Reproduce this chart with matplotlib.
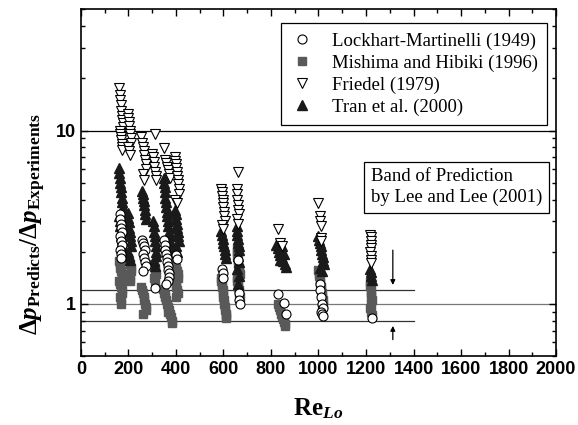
import matplotlib
matplotlib.use("Agg")
import matplotlib.pyplot as plt
from matplotlib.ticker import MultipleLocator, FixedLocator, NullFormatter, LogLocator

plt.rcParams["mathtext.fontset"] = "custom"
plt.rcParams["mathtext.rm"] = "Liberation Serif:bold"
plt.rcParams["mathtext.bf"] = "Liberation Serif:bold"
plt.rcParams["mathtext.it"] = "Liberation Serif:bold:italic"

# Lockhart-Martinelli (1949)
lm_re = [163, 165, 167, 169, 171, 164, 168, 172, 166, 170, 168,
         258, 262, 266, 270, 260, 264, 268, 272, 262,
         312,
         350, 353, 356, 359, 362, 364, 366, 368, 370, 372, 366, 360,
         402, 404,
         595, 598, 600,
         660, 664, 666, 668,
         828, 853, 862,
         1005, 1008, 1012, 1015, 1018, 1010, 1014, 1020,
         1225]
lm_val = [3.3, 3.1, 2.9, 2.75, 2.6, 2.45, 2.3, 2.2, 2.05, 1.95, 1.85,
          2.35, 2.25, 2.15, 2.05, 1.95, 1.85, 1.75, 1.65, 1.55,
          1.24,
          2.35, 2.2, 2.05, 1.95, 1.85, 1.75, 1.65, 1.58, 1.5, 1.43, 1.36, 1.3,
          1.92, 1.82,
          1.6, 1.5, 1.42,
          1.8, 1.15, 1.05, 1.0,
          1.14, 1.01, 0.87,
          1.3, 1.2, 1.1, 1.0, 0.95, 0.9, 0.88, 0.85,
          0.83]

# Mishima and Hibiki (1996)
mh_re = [160, 163, 166, 169, 172, 175, 162, 165, 168, 171, 174, 164, 167, 170,
         200, 203, 206, 209, 212, 202, 205, 208,
         255, 258, 261, 264, 267, 270, 273, 275, 260,
         308, 310, 312, 314, 309, 311,
         345, 350, 355, 358, 362, 366, 370, 374, 378, 382, 385, 352, 368,
         395, 398, 401, 404, 407, 410, 396, 399, 402, 405, 408, 400,
         588, 590, 592, 594, 596, 598, 600, 602, 604, 606, 608, 610, 611, 612,
         655, 657, 659, 661, 663, 665, 667, 668, 656, 658, 660, 662, 664, 666, 668,
         830, 834, 838, 842, 846, 850, 854, 858, 860,
         1000, 1002, 1004, 1006, 1008, 1010, 1012, 1014, 1016, 1018, 1020, 1015,
         1215, 1217, 1219, 1221, 1223, 1225, 1220, 1218, 1222, 1224]
mh_val = [1.78, 1.7, 1.62, 1.55, 1.48, 1.42, 1.36, 1.3, 1.25, 1.2, 1.15, 1.1, 1.05, 1.0,
          1.85, 1.77, 1.7, 1.62, 1.55, 1.48, 1.42, 1.36,
          1.25, 1.2, 1.15, 1.1, 1.05, 1.0, 0.96, 0.92, 0.88,
          1.7, 1.62, 1.55, 1.48, 1.42, 1.36,
          1.22, 1.16, 1.1, 1.05, 1.0, 0.96, 0.92, 0.88, 0.84, 0.8, 0.78, 1.12, 0.9,
          1.78, 1.7, 1.62, 1.55, 1.48, 1.42, 1.36, 1.3, 1.25, 1.2, 1.15, 1.1,
          1.42, 1.36, 1.3, 1.25, 1.2, 1.15, 1.1, 1.05, 1.0, 0.96, 0.92, 0.88, 0.85, 0.83,
          2.1, 2.0, 1.9, 1.8, 1.7, 1.62, 1.55, 1.48, 1.42, 1.36, 1.3, 1.25, 1.2, 1.15, 1.1,
          1.0, 0.96, 0.92, 0.88, 0.85, 0.82, 0.79, 0.77, 0.75,
          1.56, 1.5, 1.44, 1.38, 1.32, 1.26, 1.2, 1.15, 1.1, 1.05, 1.0, 0.96,
          1.33, 1.27, 1.21, 1.15, 1.1, 1.05, 1.0, 0.95, 0.9, 0.86]

# Friedel (1979)
fr_re = [162, 164, 166, 168, 170, 172, 174, 176, 178, 163, 165, 167, 169, 171, 173, 175,
         198, 200, 202, 204, 206, 208, 210, 212, 199, 203, 207,
         255, 258, 261, 264, 267, 270, 273, 275, 260, 266,
         310, 300, 303, 306, 309, 312, 315, 318,
         350, 355, 359, 363, 367, 371, 375,
         395, 397, 399, 401, 403, 405, 407, 409, 411, 412, 398, 404,
         590, 592, 594, 596, 598, 600, 602, 604, 605, 593, 599,
         660, 655, 657, 659, 661, 663, 665, 658, 662,
         830, 838, 845,
         1000, 1005, 1007, 1010, 1010, 1012,
         1218, 1219, 1220, 1221, 1222, 1218, 1220, 1222, 1219]
fr_val = [17.5, 16.0, 15.0, 14.0, 13.0, 12.2, 11.5, 11.0, 10.5, 10.0, 9.6, 9.2, 8.8, 8.4, 8.0, 7.7,
          12.5, 11.8, 11.2, 10.6, 10.0, 9.5, 9.0, 8.5, 8.0, 7.6, 7.2,
          9.2, 8.5, 8.0, 7.6, 7.2, 6.8, 6.4, 6.0, 5.6, 5.2,
          9.6, 7.3, 7.0, 6.6, 6.2, 5.8, 5.5, 5.2,
          7.9, 6.8, 6.5, 6.2, 5.9, 5.6, 5.3,
          7.0, 6.7, 6.4, 6.1, 5.8, 5.5, 5.2, 4.9, 4.6, 4.3, 4.0, 3.8,
          4.6, 4.4, 4.2, 4.0, 3.8, 3.6, 3.4, 3.2, 3.0, 2.85, 2.7,
          5.8, 4.6, 4.3, 4.0, 3.7, 3.5, 3.3, 3.1, 2.9,
          2.7, 2.25, 2.15,
          3.8, 3.2, 3.0, 2.8, 2.4, 2.3,
          2.5, 2.42, 2.3, 2.2, 2.1, 2.0, 1.9, 1.8, 1.72]

# Tran et al. (2000)
tr_re = [160, 162, 164, 166, 168, 170, 172, 174, 176, 178, 161, 163, 165, 167, 169, 171, 173, 175,
         198, 200, 202, 204, 206, 208, 210, 212, 199, 203, 207,
         258, 260, 262, 264, 266, 268, 270, 272,
         305, 307, 309, 311, 313, 315, 317, 318, 306, 310,
         348, 350, 352, 354, 356, 358, 360, 362, 364, 366, 368, 370, 373, 376, 380, 385,
         398, 400, 402, 404, 406, 408, 410, 412, 399, 405,
         590, 593, 596, 599, 602, 605, 608, 610,
         655, 657, 659, 661, 663, 665, 667, 660, 664, 658, 666, 662,
         822, 828, 834, 840, 846, 852, 858, 862, 830, 845, 855, 838,
         1000, 1003, 1006, 1009, 1012, 1015, 1018, 1021, 1025, 1008, 1014,
         1218, 1220, 1222, 1225]
tr_val = [6.1, 5.7, 5.3, 5.0, 4.7, 4.4, 4.1, 3.85, 3.6, 3.4, 3.2, 3.0, 2.8, 2.6, 2.45, 2.3, 2.15, 2.0,
          3.35, 3.15, 2.95, 2.75, 2.6, 2.45, 2.3, 2.15, 2.0, 1.9, 1.8,
          4.5, 4.3, 4.1, 3.9, 3.7, 3.5, 3.3, 3.1,
          3.0, 2.8, 2.6, 2.45, 2.3, 2.15, 2.0, 1.88, 1.76, 1.65,
          5.3, 5.0, 4.7, 4.4, 4.1, 3.85, 3.6, 3.4, 3.2, 3.0, 2.8, 2.6, 2.45, 2.3, 2.15, 2.0,
          3.5, 3.3, 3.1, 2.9, 2.75, 2.6, 2.45, 2.3, 2.15, 2.0,
          2.65, 2.5, 2.38, 2.26, 2.15, 2.05, 1.95, 1.85,
          2.8, 2.65, 2.5, 2.38, 2.26, 2.15, 2.05, 1.9, 1.75, 1.6, 1.45, 1.3,
          2.2, 2.1, 2.0, 1.92, 1.85, 1.78, 1.7, 1.64, 2.25, 2.15, 1.95, 1.8,
          2.47, 2.35, 2.25, 2.15, 2.05, 1.95, 1.86, 1.78, 1.7, 1.62, 1.55,
          1.6, 1.52, 1.45, 1.38]

band_lines = [1.2, 1.0, 0.8]

fig = plt.figure(figsize=(5.78, 4.25), dpi=100)
ax = fig.add_axes([0.14, 0.162, 0.822, 0.816])

ax.axhline(10, color="black", lw=0.9, zorder=1)
ax.axhline(1.0, color="#777777", lw=0.9, zorder=1)
ax.plot([0, 1400], [band_lines[0]] * 2, color="#333333", lw=0.9, zorder=1)
ax.plot([0, 1400], [band_lines[2]] * 2, color="#333333", lw=0.9, zorder=1)

ax.plot(mh_re, mh_val, "s", ms=6, mfc="#595959", mec="#595959", ls="none",
        zorder=2, label="Mishima and Hibiki (1996)")
ax.plot(tr_re, tr_val, "^", ms=7, mfc="#1a1a1a", mec="#1a1a1a", ls="none",
        zorder=3, label="Tran et al. (2000)")
ax.plot(fr_re, fr_val, "v", ms=7, mfc="white", mec="black", mew=0.8, ls="none",
        zorder=4, label="Friedel (1979)")
ax.plot(lm_re, lm_val, "o", ms=6.5, mfc="white", mec="black", mew=0.8, ls="none",
        zorder=5, label="Lockhart-Martinelli (1949)")

# arrows marking the band
ax.annotate("", xy=(1313, 1.24), xytext=(1313, 2.12),
            arrowprops=dict(arrowstyle="-|>", color="black", lw=0.9, mutation_scale=7))
ax.annotate("", xy=(1313, 0.775), xytext=(1313, 0.60),
            arrowprops=dict(arrowstyle="-|>", color="black", lw=0.9, mutation_scale=7))

ax.set_yscale("log")
ax.set_xlim(0, 2000)
ax.set_ylim(0.5, 50)
ax.xaxis.set_major_locator(MultipleLocator(200))
ax.xaxis.set_minor_locator(MultipleLocator(100))
ax.yaxis.set_major_locator(FixedLocator([1, 10]))
ax.yaxis.set_minor_locator(LogLocator(base=10, subs=range(2, 10)))
ax.yaxis.set_minor_formatter(NullFormatter())
ax.set_yticklabels(["1", "10"])
ax.tick_params(which="both", direction="in", top=True, right=True, width=1)
ax.tick_params(which="major", length=5)
ax.tick_params(which="minor", length=3)
for lab in ax.get_xticklabels() + ax.get_yticklabels():
    lab.set_fontfamily("Liberation Sans")
    lab.set_fontweight("bold")
    lab.set_fontsize(13)
for sp in ax.spines.values():
    sp.set_linewidth(1.2)

ax.set_xlabel(r"$\mathrm{Re}_{\mathit{Lo}}$", fontsize=18, labelpad=13)
ax.set_ylabel(r"$\Delta\mathit{p}_{\mathrm{Predicts}}/\Delta\mathit{p}_{\mathrm{Experiments}}$",
              fontsize=18)
ax.yaxis.set_label_coords(-0.07, 0.38)

h, l = ax.get_legend_handles_labels()
order = [3, 0, 2, 1]
leg = ax.legend([h[i] for i in order], [l[i] for i in order],
                loc="upper right", bbox_to_anchor=(0.981, 0.961), borderaxespad=0,
                prop={"family": "Liberation Serif", "size": 13.5}, fancybox=False,
                edgecolor="black", framealpha=1, handletextpad=1.0, labelspacing=0.25,
                borderpad=0.5, handlelength=1.2)
leg.get_frame().set_linewidth(0.9)

ax.text(0.61, 0.487, "Band of Prediction\nby Lee and Lee (2001)", transform=ax.transAxes,
        family="Liberation Serif", fontsize=13.5, va="center", ha="left", linespacing=1.25,
        bbox=dict(boxstyle="square,pad=0.35", fc="white", ec="black", lw=0.9), zorder=6)

fig.savefig("out.png", dpi=100)
